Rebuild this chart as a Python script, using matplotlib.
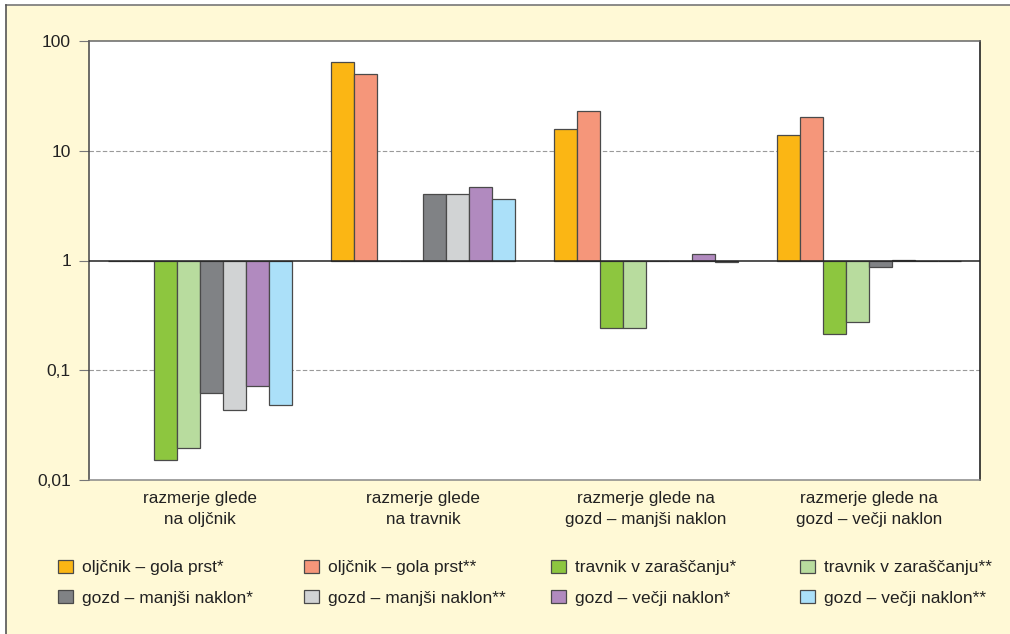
import matplotlib
matplotlib.use("Agg")
import matplotlib.pyplot as plt
import numpy as np
from matplotlib.patches import Rectangle
from matplotlib.lines import Line2D

# ---- data ----
groups = ["razmerje glede\nna oljčnik", "razmerje glede\nna travnik",
          "razmerje glede na\ngozd – manjši naklon", "razmerje glede na\ngozd – večji naklon"]
series = ["oljčnik – gola prst*", "oljčnik – gola prst**",
          "travnik v zaraščanju*", "travnik v zaraščanju**",
          "gozd – manjši naklon*", "gozd – manjši naklon**",
          "gozd – večji naklon*", "gozd – večji naklon**"]
oljcnik_1 = [1.0, 64.9, 15.9, 13.9]
oljcnik_2 = [1.0, 50.4, 23.0, 20.5]
travnik_1 = [0.0152, 1.0, 0.244, 0.212]
travnik_2 = [0.0197, 1.0, 0.244, 0.275]
gozd_m_1 = [0.0618, 4.01, 1.0, 0.864]
gozd_m_2 = [0.0433, 4.01, 1.0, 1.02]
gozd_v_1 = [0.0716, 4.64, 1.14, 1.0]
gozd_v_2 = [0.0484, 3.61, 0.965, 1.0]
values = [oljcnik_1, oljcnik_2, travnik_1, travnik_2, gozd_m_1, gozd_m_2, gozd_v_1, gozd_v_2]
colors = ["#FBB614", "#F5967A", "#8DC63F", "#B8DC9E",
          "#808285", "#D1D3D4", "#B18ABF", "#ABE0F9"]
yticks = [0.01, 0.1, 1, 10, 100]
ytick_labels = ["0,01", "0,1", "1", "10", "100"]

plt.rcParams["font.family"] = ["Liberation Sans", "DejaVu Sans"]

W, H = 1010, 634
fig = plt.figure(figsize=(W / 100, H / 100), dpi=100)
fig.patch.set_facecolor("white")
# yellow panel with frame lines at top and left
fig.patches.append(Rectangle((6 / W, 0), 1, 1 - 5 / H, transform=fig.transFigure,
                             facecolor="#FFF9D6", edgecolor="none", zorder=-5))
fig.lines.append(Line2D([6 / W, 1], [1 - 5 / H, 1 - 5 / H], transform=fig.transFigure,
                        color="#777777", lw=1.2, zorder=-4))
fig.lines.append(Line2D([6 / W, 6 / W], [0, 1 - 5 / H], transform=fig.transFigure,
                        color="#555555", lw=1.2, zorder=-4))

ax = fig.add_axes([89 / W, 1 - 480 / H, (980 - 89) / W, (480 - 41) / H])
ax.set_zorder(2)
ax.set_facecolor("white")
ax.set_yscale("log")
ax.set_ylim(0.01, 100)
ax.set_xlim(-0.5, len(groups) - 0.5)

n = len(series)
bw = 0.1033
x = np.arange(len(groups))
for i, (vals, c) in enumerate(zip(values, colors)):
    v = np.array(vals)
    pos = x + (i - (n - 1) / 2) * bw
    ax.bar(pos, v - 1, bottom=1, width=bw, color=c, edgecolor="#4a4a4a",
           linewidth=0.9, zorder=3, label=series[i])

for yv in [10, 0.1]:
    ax.axhline(yv, color="#9a9a9a", lw=0.8, ls=(0, (4, 2)), zorder=1)
ax.axhline(1, color="#222222", lw=1.1, zorder=4)

ax.set_yticks(yticks)
ax.set_yticklabels(ytick_labels, fontsize=12.5, color="#222222")
ax.yaxis.set_minor_locator(matplotlib.ticker.NullLocator())
ax.tick_params(axis="y", length=7, width=0.8, color="#777777", pad=6)
ax.set_xticks(x)
ax.set_xticklabels(groups, fontsize=12.3, color="#222222", linespacing=1.45)
ax.tick_params(axis="x", length=0, pad=8)

ax.spines["left"].set_color("#444444")
ax.spines["top"].set_color("#666666")
ax.spines["right"].set_color("#111111")
ax.spines["bottom"].set_color("#888888")
for s in ax.spines.values():
    s.set_linewidth(1.1)

handles, labels = ax.get_legend_handles_labels()
col_x = [58, 304, 551, 800]
for j in range(4):
    hs = [handles[j], handles[j + 4]]
    ls = [labels[j], labels[j + 4]]
    leg = fig.legend(hs, ls, loc="upper left", bbox_to_anchor=(col_x[j] / W, 1 - 560 / H),
                     frameon=False, borderpad=0, borderaxespad=0, handlelength=0.86,
                     handleheight=0.75, handletextpad=0.55, labelspacing=0.86,
                     prop={"family": ["Liberation Sans", "DejaVu Sans"], "size": 12.5})
    for t in leg.get_texts():
        t.set_color("#222222")

fig.savefig("out.png", dpi=100, facecolor=fig.get_facecolor())
